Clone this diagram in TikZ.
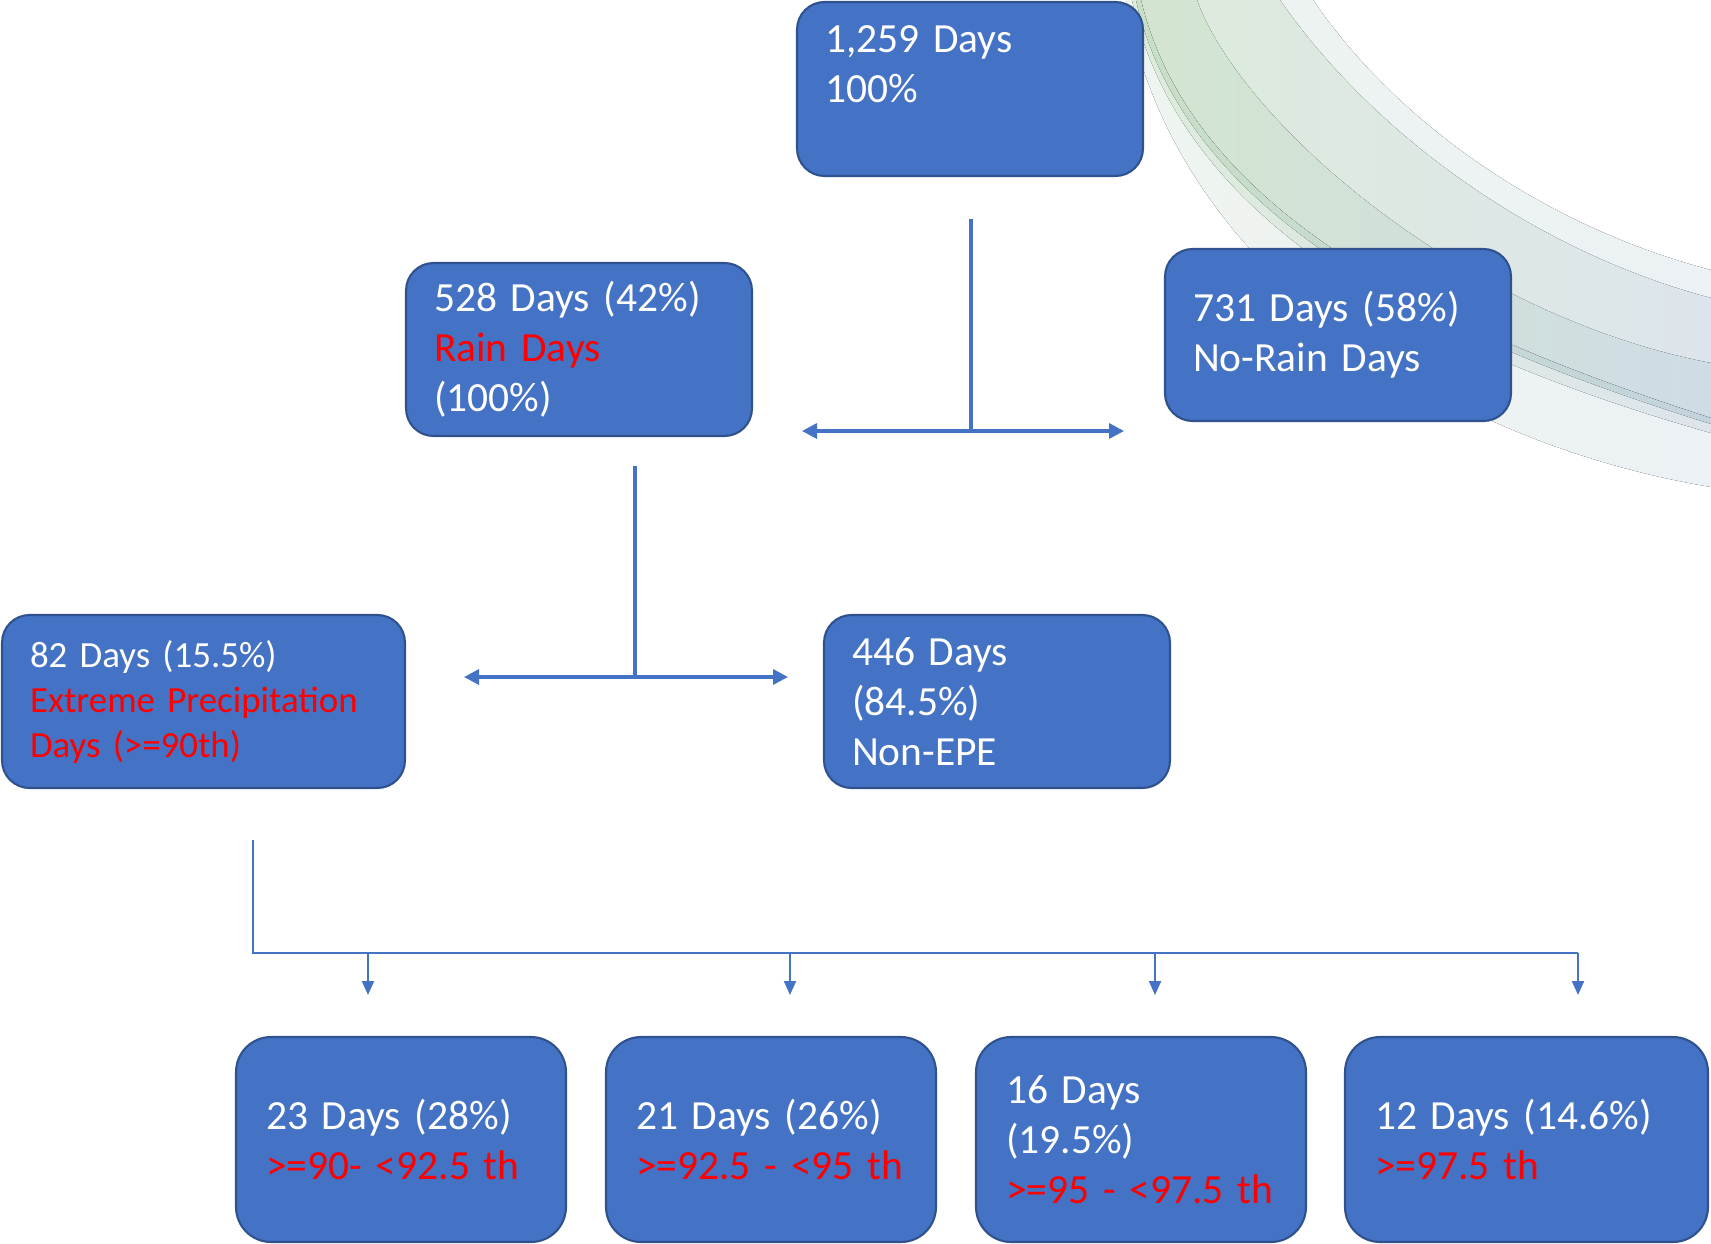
\documentclass[tikz,border=0pt]{standalone}
\usepackage{fontspec}
\setmainfont{Carlito}
\usepackage{xcolor}
\usetikzlibrary{arrows.meta, calc}
\definecolor{boxblue}{HTML}{4472C4}
\definecolor{boxedge}{HTML}{2F528F}
\definecolor{hotred}{HTML}{FF0000}
\definecolor{swlightL}{HTML}{EEF4EF}
\definecolor{swlightR}{HTML}{ECF1F5}
\definecolor{swmidL}{HTML}{DDEBDB}
\definecolor{swmidR}{HTML}{DDE5EC}
\definecolor{swdarkL}{HTML}{D3E5D0}
\definecolor{swdarkR}{HTML}{CFDCE5}
\definecolor{swlineL}{HTML}{C8DFC6}
\definecolor{swlineR}{HTML}{C3D3DE}

\begin{document}
\begin{tikzpicture}[x=0.02cm, y=-0.02cm,
	    >={Triangle[length=0.3cm, width=0.3cm]},
	    box/.style={draw=boxedge, line width=1.2pt, fill=boxblue, rounded corners=0.55cm,
	      text=white, align=left, inner xsep=0.56cm, inner ysep=0pt,
	      font=\fontsize{23.6}{28.45}\selectfont},
	    lowbox/.style={box, rounded corners=0.7cm, inner xsep=0.6cm, minimum height=4.1cm},
	    link/.style={boxblue, line width=1.9pt},
	    drop/.style={boxblue, line width=1.2pt, -{Triangle[length=0.28cm, width=0.24cm]}}
	  ]
	  \useasboundingbox (0,0) rectangle (1711,1244);

	  % swoosh in the corner
	  \fill[left color=swlightL, right color=swlightR] (1126,0) .. controls (1170,260) and (1430,440) .. (1711,487)
	    -- (1711,270) .. controls (1540,225) and (1395,120) .. (1313,0) -- cycle;
	  \fill[left color=swmidL, right color=swmidR] (1132,0) .. controls (1182,236) and (1455,360) .. (1711,433)
	    -- (1711,298) .. controls (1530,250) and (1370,130) .. (1280,0) -- cycle;
	  \fill[left color=swdarkL, right color=swdarkR] (1141,0) .. controls (1195,225) and (1470,340) .. (1711,418)
	    -- (1711,363) .. controls (1460,315) and (1240,120) .. (1197,0) -- cycle;
	  \fill[left color=swlineL, right color=swlineR] (1136,0) .. controls (1188,230) and (1465,347) .. (1711,424)
	    -- (1711,418) .. controls (1470,340) and (1195,225) .. (1141,0) -- cycle;

	  % boxes
	  \node[box, text width=5.8cm, minimum height=3.48cm] (total) at (970,89) {1,259 Days\\100\%\\\mbox{}};
	  \node[box, text width=5.8cm, minimum height=3.46cm] (rain) at (579,349.5)
	    {528 Days (42\%)\\\textcolor{hotred}{Rain Days}\\(100\%)};
	  \node[box, text width=5.8cm, minimum height=3.44cm] (norain) at (1338,335) {731 Days (58\%)\\No-Rain Days};
	  \node[box, text width=6.94cm, minimum height=3.46cm, font=\fontsize{21}{25.6}\selectfont] (epe) at (203.5,701.5)
	    {82 Days (15.5\%)\\\textcolor{hotred}{Extreme Precipitation}\\\textcolor{hotred}{Days (>=90th)}};
	  \node[box, text width=5.8cm, minimum height=3.46cm] (nonepe) at (997,701.5) {446 Days\\(84.5\%)\\Non-EPE};

	  \node[lowbox, text width=5.4cm] (p90) at (401,1139.5) {23 Days (28\%)\\\textcolor{hotred}{>=90- <92.5 th}};
	  \node[lowbox, text width=5.4cm] (p925) at (771,1139.5) {21 Days (26\%)\\\textcolor{hotred}{>=92.5 - <95 th}};
	  \node[lowbox, text width=5.4cm] (p95) at (1141,1139.5) {16 Days\\(19.5\%)\\\textcolor{hotred}{>=95 - <97.5 th}};
	  \node[lowbox, text width=6.06cm] (p975) at (1526.5,1139.5) {12 Days (14.6\%)\\\textcolor{hotred}{>=97.5 th}};

	  % first split: rain / no rain
	  \coordinate (topstem) at (971,219);
	  \coordinate (split1) at (971,431);
	  \coordinate (toRain) at (802,431);
	  \coordinate (toDry) at (1124,431);
	  \draw[link] (topstem) -- (split1);
	  \draw[link,->] (split1) -- (toRain);
	  \draw[link,->] (split1) -- (toDry);

	  % second split: EPE / non-EPE
	  \coordinate (rainstem) at (635,466);
	  \coordinate (split2) at (635,677);
	  \coordinate (toEpe) at (464,677);
	  \coordinate (toNon) at (788,677);
	  \draw[link] (rainstem) -- (split2);
	  \draw[link,->] (split2) -- (toEpe);
	  \draw[link,->] (split2) -- (toNon);

	  % percentile bus
	  \coordinate (epestem) at (253,840);
	  \coordinate (bus) at (253,953);
	  \coordinate (busend) at (1578,953);
	  \draw[link, line width=1.6pt] (epestem) -- (bus) -- (busend);
	  \foreach \name/\xx in {a/368, b/790, c/1155, d/1578} {
	    \coordinate (tap\name) at (\xx,953);
	    \coordinate (tip\name) at (\xx,995);
	    \draw[drop] (tap\name) -- (tip\name);
	  }
	\end{tikzpicture}
\end{document}
